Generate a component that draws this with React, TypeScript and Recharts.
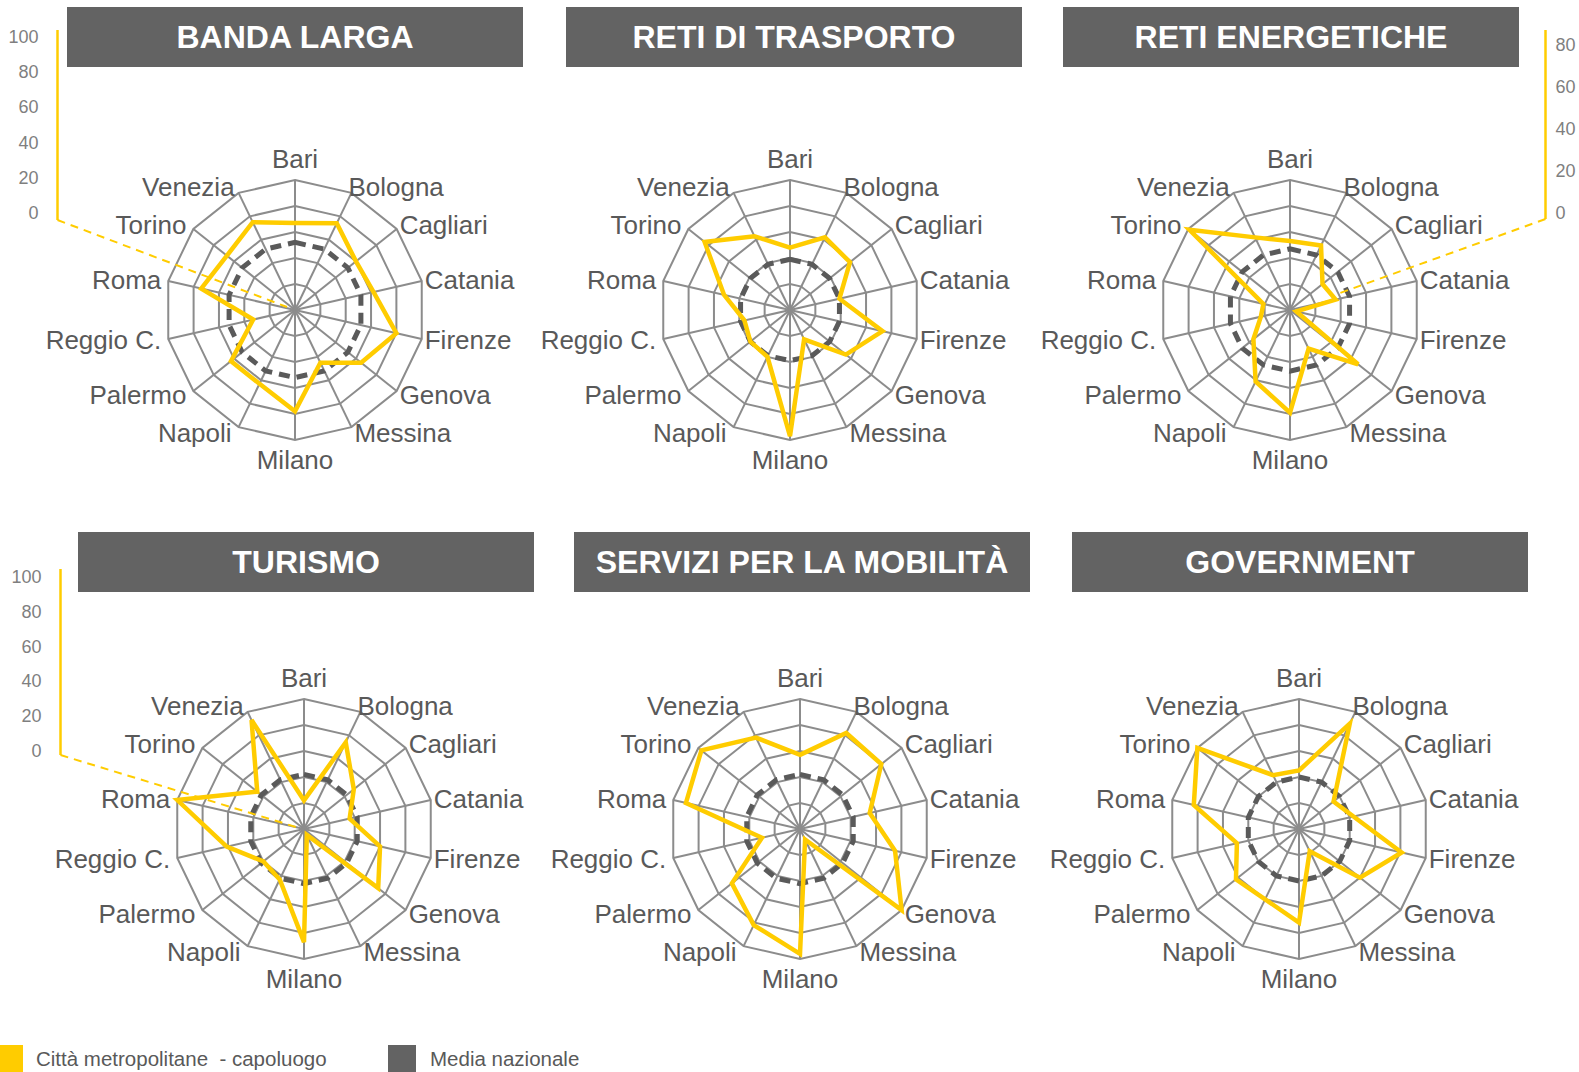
import React from "react";
import { RadarChart, Radar, PolarGrid, PolarAngleAxis, PolarRadiusAxis } from "recharts";

const FONT = '"Liberation Sans", Arial, sans-serif';
const YELLOW = "#FFCC00";
const DARK = "#636363";
const GRID = "#8c8c8c";
const LABEL = "#595959";

const CITIES = [
  "Bari", "Bologna", "Cagliari", "Catania", "Firenze", "Genova", "Messina",
  "Milano", "Napoli", "Palermo", "Reggio C.", "Roma", "Torino", "Venezia",
];

const TITLES = [
  "BANDA LARGA", "RETI DI TRASPORTO", "RETI ENERGETICHE",
  "TURISMO", "SERVIZI PER LA MOBILITÀ", "GOVERNMENT",
];

// Città metropolitane - capoluogo, one array per indicator (same order as CITIES)
const BANDA_LARGA = [67, 74, 60, 62, 80, 65, 45, 78, 63, 63, 33, 74, 67, 75];
const RETI_TRASPORTO = [48, 62, 59, 39, 73, 55, 25, 97, 40, 39, 36, 52, 84, 63];
const RETI_ENERGETICHE = [53, 55, 32, 36, 5, 67, 33, 79, 61, 36, 23, 21, 99, 62];
const TURISMO = [22, 74, 49, 36, 60, 73, 5, 87, 43, 40, 61, 100, 46, 93];
const MOBILITA = [57, 82, 80, 55, 75, 100, 9, 96, 82, 67, 30, 90, 97, 78];
const GOVERNMENT = [45, 90, 34, 43, 81, 60, 19, 72, 60, 62, 49, 83, 100, 46];

// Media nazionale per indicator
const NATIONAL_MEAN = [52, 39, 47, 42, 42, 40];

const SERIES = [BANDA_LARGA, RETI_TRASPORTO, RETI_ENERGETICHE, TURISMO, MOBILITA, GOVERNMENT];

// the stray radius axis labels
const TICKS_100 = [0, 20, 40, 60, 80, 100];
const TICKS_80 = [0, 20, 40, 60, 80];

const LEGEND = ["Città metropolitane  - capoluogo", "Media nazionale"];

// layout: radar centre and title box for each panel
const LAYOUT = [
  { cx: 295, cy: 310, box: { left: 67, top: 7 } },
  { cx: 790, cy: 310, box: { left: 566, top: 7 } },
  { cx: 1290, cy: 310, box: { left: 1063, top: 7 } },
  { cx: 304, cy: 829, box: { left: 78, top: 532 } },
  { cx: 800, cy: 829, box: { left: 574, top: 532 } },
  { cx: 1299, cy: 829, box: { left: 1072, top: 532 } },
];

const W = 560;
const H = 360;
const R = 130;

function cityTick(cx: number, cy: number) {
  return (props: any) => {
    const { x, y, payload } = props;
    const dx = x - cx;
    const dy = y - cy;
    const len = Math.hypot(dx, dy) || 1;
    const ux = dx / len;
    const uy = dy / len;
    const vx = cx + ux * R;
    const vy = cy + uy * R;
    let anchor: "start" | "middle" | "end" = "middle";
    let tx = vx;
    let ty = vy;
    if (Math.abs(ux) < 0.1) {
      ty = vy + (uy < 0 ? -21 : 20);
    } else if (ux > 0) {
      anchor = "start";
      tx = uy < -0.85 ? vx - 3 : vx + 3;
      ty = vy + uy * 6;
    } else {
      anchor = "end";
      tx = uy < -0.85 ? vx - 4 : vx - 7;
      ty = vy + uy * 6;
    }
    return (
      <text
        x={tx}
        y={ty}
        textAnchor={anchor}
        dominantBaseline="central"
        fontFamily={FONT}
        fontSize={26}
        fill={LABEL}
      >
        {payload.value}
      </text>
    );
  };
}

function Panel({ index }: { index: number }) {
  const lay = LAYOUT[index];
  const values = SERIES[index];
  const data = CITIES.map((city, i) => ({
    city,
    value: values[i],
    mean: NATIONAL_MEAN[index],
  }));
  const ccx = W / 2;
  const ccy = H / 2;
  return (
    <>
      <div
        style={{
          position: "absolute",
          left: lay.box.left,
          top: lay.box.top,
          width: 456,
          height: 60,
          background: DARK,
          color: "#fff",
          fontFamily: FONT,
          fontWeight: 700,
          fontSize: 32,
          display: "flex",
          alignItems: "center",
          justifyContent: "center",
        }}
      >
        {TITLES[index]}
      </div>
      <div style={{ position: "absolute", left: lay.cx - ccx, top: lay.cy - ccy }}>
        <RadarChart
          width={W}
          height={H}
          data={data}
          cx={ccx}
          cy={ccy}
          outerRadius={R}
          margin={{ top: 0, right: 0, bottom: 0, left: 0 }}
        >
          <PolarGrid gridType="polygon" stroke={GRID} strokeWidth={2} />
          <PolarAngleAxis
            dataKey="city"
            tick={cityTick(ccx, ccy)}
            tickLine={false}
            axisLine={false}
          />
          <PolarRadiusAxis
            domain={[0, 100]}
            tickCount={6}
            tick={false}
            axisLine={false}
          />
          <Radar
            dataKey="mean"
            stroke="#5a5a5a"
            strokeWidth={5}
            strokeDasharray="11 7"
            fill="none"
            dot={false}
            isAnimationActive={false}
          />
          <Radar
            dataKey="value"
            stroke={YELLOW}
            strokeWidth={4.5}
            fill="none"
            dot={false}
            isAnimationActive={false}
          />
        </RadarChart>
      </div>
    </>
  );
}

function Callout({
  ticks, lineX, top, bottom, zeroY, step, side, end,
}: {
  ticks: number[]; lineX: number; top: number; bottom: number; zeroY: number;
  step: number; side: "left" | "right"; end: [number, number];
}) {
  return (
    <g>
      <line x1={lineX} y1={top} x2={lineX} y2={bottom} stroke={YELLOW} strokeWidth={2.5} />
      <line
        x1={lineX}
        y1={bottom}
        x2={end[0]}
        y2={end[1]}
        stroke={YELLOW}
        strokeWidth={2}
        strokeDasharray="8 6"
      />
      {ticks.map((t, i) => (
        <text
          key={t}
          x={side === "left" ? lineX - 19 : lineX + 10}
          y={zeroY - i * step}
          textAnchor={side === "left" ? "end" : "start"}
          dominantBaseline="central"
          fontFamily={FONT}
          fontSize={18}
          fill="#7f7f7f"
        >
          {t}
        </text>
      ))}
    </g>
  );
}

export default function App() {
  return (
    <div
      style={{
        position: "absolute",
        left: 0,
        top: 0,
        width: 1579,
        height: 1072,
        background: "#fff",
        overflow: "hidden",
      }}
    >
      {TITLES.map((_, i) => (
        <Panel key={i} index={i} />
      ))}
      <svg
        width={1579}
        height={1072}
        style={{ position: "absolute", left: 0, top: 0, pointerEvents: "none" }}
      >
        <Callout ticks={TICKS_100} lineX={57.5} top={30} bottom={220} zeroY={213} step={35.2} side="left" end={[287, 307]} />
        <Callout ticks={TICKS_80} lineX={1545.5} top={30} bottom={219} zeroY={212.5} step={42} side="right" end={[1340, 293]} />
        <Callout ticks={TICKS_100} lineX={60.5} top={569} bottom={755} zeroY={751} step={34.8} side="left" end={[296, 827]} />
      </svg>
      <div
        style={{
          position: "absolute",
          left: 0,
          top: 1045,
          display: "flex",
          alignItems: "center",
          fontFamily: FONT,
          fontSize: 20.5,
          color: LABEL,
        }}
      >
        <div style={{ width: 23, height: 28, background: YELLOW }} />
        <span style={{ marginLeft: 13, width: 352, whiteSpace: "pre" }}>{LEGEND[0]}</span>
        <div style={{ width: 28, height: 28, background: DARK }} />
        <span style={{ marginLeft: 14 }}>{LEGEND[1]}</span>
      </div>
    </div>
  );
}
